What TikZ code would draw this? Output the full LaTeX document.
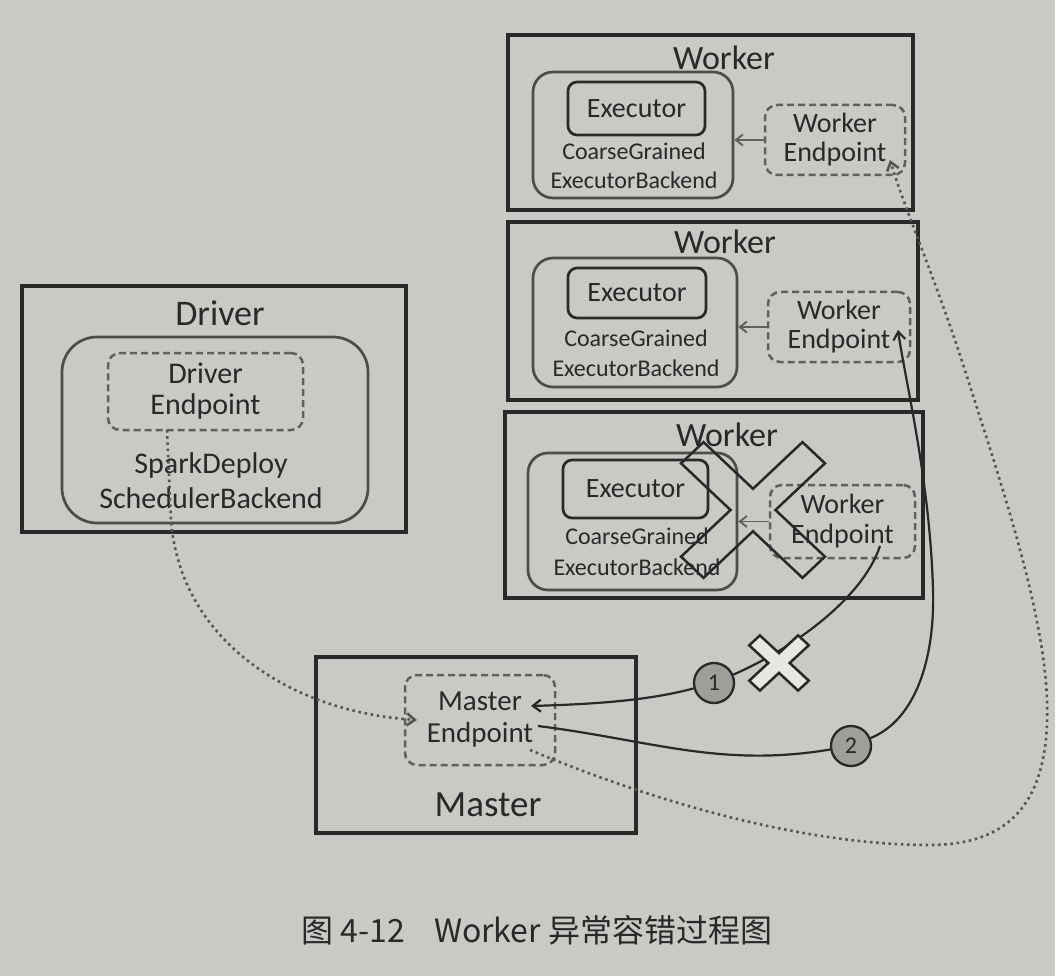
\documentclass[tikz,border=0pt]{standalone}
\usepackage{fontspec}
\setmainfont{Carlito}
\newfontfamily\cjk{Noto Sans CJK SC}
\usetikzlibrary{arrows.meta,calc}

\definecolor{paper}{RGB}{202,201,197}
\definecolor{ink}{RGB}{42,40,40}
\definecolor{boxgray}{RGB}{78,75,75}
\definecolor{dashgray}{RGB}{98,96,95}
\definecolor{dotgray}{RGB}{88,86,85}
\definecolor{ballfill}{RGB}{160,158,155}
\definecolor{crossfill}{RGB}{232,231,227}

\tikzset{
  outerbox/.style={draw=ink, line width=3.3pt, rectangle, inner sep=0pt},
  backbox/.style={draw=boxgray, line width=2.7pt, rectangle, rounded corners=20pt, inner sep=0pt},
  execbox/.style={draw=ink, line width=2.7pt, rectangle, rounded corners=9pt, inner sep=0pt,
    text=ink, font=\fontsize{28}{30}\selectfont},
  endbox/.style={draw=dashgray, line width=2.5pt, dash pattern=on 7pt off 4pt, rectangle,
    rounded corners=12pt, inner sep=0pt, align=center, text=ink},
  title/.style={text=ink, inner sep=0pt, font=\fontsize{34}{36}\selectfont},
  backtext/.style={text=ink, inner sep=0pt, align=center},
  link/.style={draw=ink, line width=2.2pt},
  dotlink/.style={draw=dotgray, line width=2.6pt, dash pattern=on 2.6pt off 3.6pt},
  innerarrow/.style={draw=dashgray, line width=1.9pt, -{Straight Barb[length=7pt,width=11pt]}},
  barb/.style={-{Straight Barb[length=8pt,width=12pt]}},
  numball/.style={circle, draw=ink, line width=2.3pt, fill=ballfill, minimum size=40pt,
    inner sep=0pt, text=ink, font=\fontsize{24}{24}\selectfont},
  crossline/.style={draw=ink, line width=2.5pt, line join=miter},
}

\begin{document}
\begin{tikzpicture}[x=1pt,y=-1pt]
  \useasboundingbox (0,0) rectangle (1055,976);
  \fill[paper] (0,0) rectangle (1055,976);

  % ---------- Worker 1 ----------
  \node[outerbox, minimum width=405pt, minimum height=175pt] (w1) at (710.5,122.5) {};
  \node[title] (w1t) at (724,58) {Worker};
  \node[backbox, minimum width=200pt, minimum height=126pt] (b1) at (633,135) {};
  \node[execbox, minimum width=137pt, minimum height=53pt] (e1) at (636.5,108.5) {Executor};
  \node[backtext, font=\fontsize{24}{29}\selectfont] (bt1) at (634,166) {CoarseGrained\\ExecutorBackend};
  \node[endbox, minimum width=140pt, minimum height=70pt, font=\fontsize{28}{29}\selectfont] (p1) at (835,140) {Worker\\Endpoint};
  \draw[innerarrow] (p1.west) -- (p1.west -| b1.east);

  % ---------- Worker 2 ----------
  \node[outerbox, minimum width=410pt, minimum height=178pt] (w2) at (713,311) {};
  \node[title] (w2t) at (725,242) {Worker};
  \node[backbox, minimum width=204pt, minimum height=129pt] (b2) at (635,322.5) {};
  \node[execbox, minimum width=138pt, minimum height=50pt] (e2) at (637,293) {Executor};
  \node[backtext, font=\fontsize{24}{30}\selectfont] (bt2) at (636,353) {CoarseGrained\\ExecutorBackend};
  \node[endbox, minimum width=142pt, minimum height=70pt, font=\fontsize{28}{29}\selectfont] (p2) at (839,327) {Worker\\Endpoint};
  \draw[innerarrow] (p2.west) -- (p2.west -| b2.east);

  % ---------- Worker 3 (failed) ----------
  \node[outerbox, minimum width=418pt, minimum height=186pt] (w3) at (714,505) {};
  \node[title] (w3t) at (727,435) {Worker};
  \node[backbox, minimum width=209pt, minimum height=137pt] (b3) at (632.5,521.5) {};
  \node[execbox, minimum width=145pt, minimum height=58pt] (e3) at (635.5,489) {Executor};
  \node[backtext, font=\fontsize{24}{31}\selectfont] (bt3) at (637,552) {CoarseGrained\\ExecutorBackend};
  \node[endbox, minimum width=145pt, minimum height=73pt, font=\fontsize{28}{30}\selectfont] (p3) at (842.5,521.5) {Worker\\Endpoint};
  \draw[innerarrow] (p3.west) -- (p3.west -| b3.east);

  % big cross over the failed worker
  \begin{scope}[shift={(753,510)}, xscale=1.06, rotate=45]
    \draw[crossline] (15,81) -- (15,15) -- (81,15) -- (81,-15) -- (15,-15) -- (15,-81)
      -- (-15,-81) -- (-15,-15) -- (-81,-15) -- (-81,15) -- (-15,15) -- (-15,81) -- cycle;
  \end{scope}

  % ---------- Driver ----------
  \node[outerbox, minimum width=384pt, minimum height=246pt] (drv) at (214,409) {};
  \node[title, font=\fontsize{36}{38}\selectfont] (drvt) at (220,313) {Driver};
  \node[backbox, rounded corners=35pt, minimum width=306pt, minimum height=186pt] (db) at (215,430) {};
  \node[endbox, minimum width=195pt, minimum height=77pt, font=\fontsize{30}{31}\selectfont] (dp) at (205.5,391.5) {Driver\\Endpoint};
  \node[backtext, font=\fontsize{30}{35}\selectfont] (dbt) at (211,481) {SparkDeploy\\SchedulerBackend};

  % ---------- Master ----------
  \node[outerbox, minimum width=320pt, minimum height=176pt] (mst) at (476,745) {};
  \node[title, font=\fontsize{37}{38}\selectfont] (mstt) at (488,805) {Master};
  \node[endbox, minimum width=150pt, minimum height=90pt, font=\fontsize{29}{32}\selectfont] (mp) at (480,720) {Master\\Endpoint};

  % ---------- numbered steps ----------
  \node[numball] (c1) at (714,683) {1};
  \node[numball] (c2) at (851,746) {2};

  % connector end points
  \coordinate (p3-out) at (880,546);
  \coordinate (mp-in1) at (531,706);
  \coordinate (mp-out) at (538,726);
  \coordinate (p2-in) at (898,330);
  \coordinate (dp-out) at (167,430);
  \coordinate (mp-in2) at (417,720);
  \coordinate (mp-out2) at (530,750);
  \coordinate (p1-in) at (890,160);

  % step 1: the failed worker's link to the master
  \draw[link] (p3-out) .. controls (862,600) and (790,650) .. (c1);
  \draw[link, barb] (c1) .. controls (650,700) and (600,704) .. (mp-in1);

  % step 2: master to the surviving worker
  \draw[link] (mp-out) .. controls (650,740) and (720,768) .. (c2);
  \draw[link, barb] (c2) .. controls (915,720) and (935,660) .. (933,590)
    .. controls (930,480) and (905,380) .. (p2-in);

  % small cross on the broken link
  \begin{scope}[shift={(779,663)}, xscale=1.08, rotate=45]
    \draw[crossline, fill=crossfill] (7,32) -- (7,7) -- (32,7) -- (32,-7) -- (7,-7) -- (7,-32)
      -- (-7,-32) -- (-7,-7) -- (-32,-7) -- (-32,7) -- (-7,7) -- (-7,32) -- cycle;
  \end{scope}

  % dotted links
  \draw[dotlink, barb] (dp-out) -- (171,520) .. controls (180,640) and (290,712) .. (mp-in2);
  \draw[dotlink, barb] (mp-out2) .. controls (650,800) and (800,845) .. (930,845)
    .. controls (1020,845) and (1050,790) .. (1047,700)
    .. controls (1044,610) and (1000,480) .. (968,380)
    .. controls (940,290) and (905,210) .. (p1-in);

  % caption
  \node[text=ink, inner sep=0pt, font=\cjk\fontsize{32}{34}\selectfont] (cap) at (537,930)
    {图 4-12\hspace{0.9em}Worker 异常容错过程图};
\end{tikzpicture}
\end{document}
